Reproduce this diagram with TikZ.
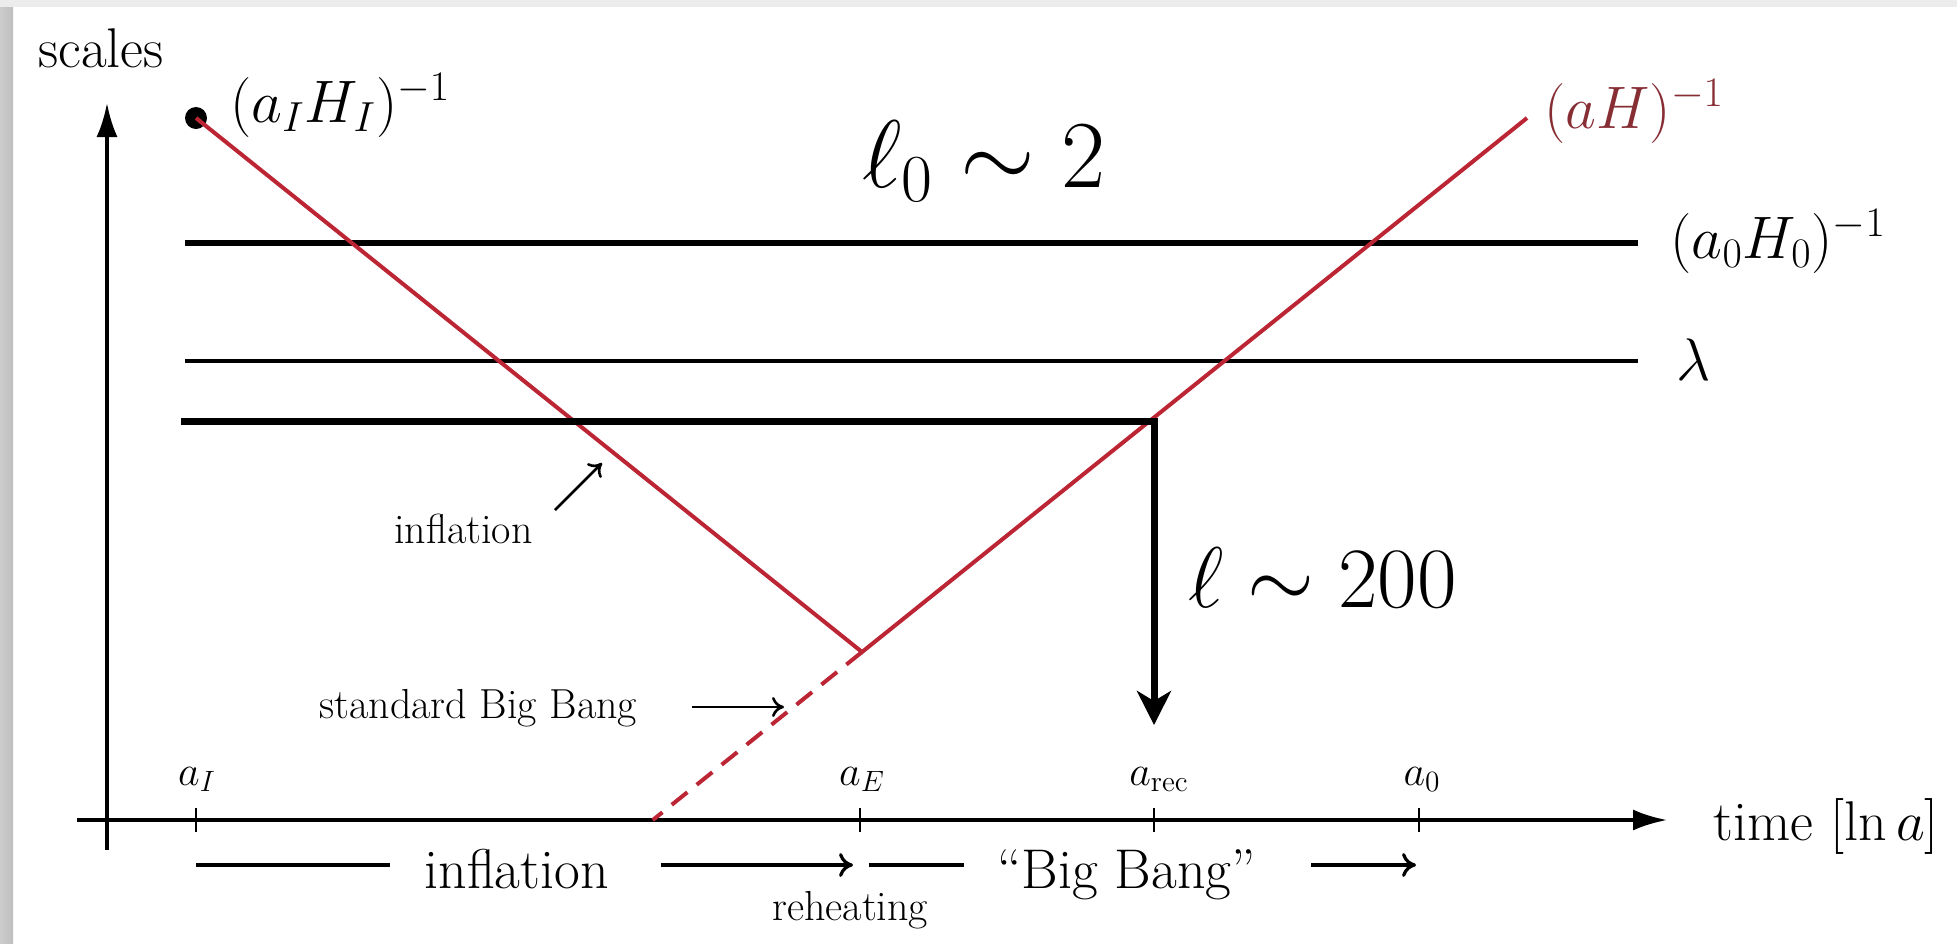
\RequirePackage{fix-cm}
\documentclass[tikz,border=0pt]{standalone}
\usetikzlibrary{arrows.meta,calc}
\definecolor{myred}{RGB}{188,38,52}
\definecolor{labred}{RGB}{135,45,52}
\tikzset{
  axisline/.style={line width=1.8pt,-{Latex[length=17pt,width=10.5pt]}},
  tickline/.style={line width=1pt},
  redline/.style={line width=2pt,myred},
  reddash/.style={line width=2pt,myred,dash pattern=on 10pt off 6pt},
  thickh/.style={line width=3.2pt},
  thinh/.style={line width=1.7pt},
  ellarrow/.style={line width=3.5pt,line join=miter,-{Stealth[length=17pt,width=17pt,inset=5pt]}},
  small/.style={inner sep=0pt,anchor=base west,font=\fontsize{21}{25}\selectfont},
  medium/.style={inner sep=0pt,anchor=base west,font=\fontsize{28}{34}\selectfont},
  mathlab/.style={inner sep=0pt,anchor=base west,font=\fontsize{30}{36}\selectfont},
  ticklab/.style={inner sep=0pt,anchor=base,font=\fontsize{21}{25}\selectfont},
  pointer/.style={line width=1.3pt,-{To[length=6pt,width=10pt]}},
  rowline/.style={line width=1.6pt},
  rowarrow/.style={line width=1.6pt,-{To[length=7pt,width=12pt]}},
}
\begin{document}
\begin{tikzpicture}[x=0.5pt,y=-0.5pt]
\useasboundingbox (0,0) rectangle (1957,943);
% screenshot frame
\fill[gray!15] (0,0) rectangle (1957,7);
\shade[left color=gray!40,right color=gray!50] (0,7) rectangle (13,943);

% axes
\coordinate (yb) at (107,850);
\coordinate (yt) at (107,103);
\coordinate (xl) at (77,820);
\coordinate (xr) at (1667,820);
\draw[axisline] (yb) -- (yt);
\draw[axisline] (xl) -- (xr);
\node[medium] (scales) at (38,67) {scales};
\node[medium] (time) at (1713,840) {time $[\ln a]$};

% ticks
\foreach \n/\x in {I/196,E/860,rec/1154,0/1419}{
  \coordinate (t\n a) at (\x,808);
  \coordinate (t\n b) at (\x,832);
  \draw[tickline] (t\n a) -- (t\n b);
}
\node[ticklab] (laI) at (197,785) {$a_I$};
\node[ticklab] (laE) at (862,785) {$a_E$};
\node[ticklab] (larec) at (1159,785) {$a_{\rm rec}$};
\node[ticklab] (la0) at (1422,785) {$a_0$};

% horizontal scales
\coordinate (hA1) at (185,243); \coordinate (hA2) at (1638,243);
\draw[thickh] (hA1) -- (hA2);
\coordinate (hL1) at (185,361); \coordinate (hL2) at (1638,361);
\draw[thinh] (hL1) -- (hL2);
\node[mathlab] (a0H0) at (1670,258) {$(a_0H_0)^{-1}$};
\node[mathlab] (lam) at (1676,380) {$\lambda$};

% Hubble radius
\node[circle,fill=black,inner sep=0pt,minimum size=11pt] (dot) at (196,118) {};
\coordinate (E) at (862,652);
\coordinate (top) at (1527,118);
\coordinate (bb) at ($(E)!-0.3146!(top)$);
\draw[reddash] (E) -- (bb);
\draw[redline,line join=miter] (dot.center) -- (E) -- (top);
\node[mathlab] (aIHI) at (230,122) {$(a_IH_I)^{-1}$};
\node[mathlab,text=labred] (aH) at (1544,128) {$(aH)^{-1}$};

% ell line and arrow
\coordinate (hl1) at (181,421);
\coordinate (corner) at (1154,421);
\coordinate (ellend) at (1154,725);
\draw[ellarrow] (hl1) -- (corner) -- (ellend);
\node[inner sep=0pt,anchor=base west,font=\fontsize{48}{56}\selectfont] (ell0) at (862,187) {$\ell_0\sim 2$};
\node[inner sep=0pt,anchor=base west,font=\fontsize{43}{50}\selectfont] (ell) at (1188,607) {$\ell\sim 200$};

% annotations
\node[small] (infl) at (394,543) {inflation};
\coordinate (p1a) at (555,510); \coordinate (p1b) at (602,463);
\draw[pointer] (p1a) -- (p1b);
\node[small] (sbb) at (319,718) {standard Big Bang};
\coordinate (p2a) at (692,707); \coordinate (p2b) at (784,707);
\draw[pointer] (p2a) -- (p2b);

% bottom row
\coordinate (r1a) at (196,865); \coordinate (r1b) at (390,865);
\draw[rowline] (r1a) -- (r1b);
\node[medium] (binfl) at (424,888) {inflation};
\coordinate (r2a) at (661,865); \coordinate (r2b) at (853,865);
\draw[rowarrow] (r2a) -- (r2b);
\coordinate (r3a) at (869,865); \coordinate (r3b) at (964,865);
\draw[rowline] (r3a) -- (r3b);
\node[medium] (bbb) at (997,888) {“Big Bang”};
\coordinate (r4a) at (1311,865); \coordinate (r4b) at (1416,865);
\draw[rowarrow] (r4a) -- (r4b);
\node[small] (reh) at (772,920) {reheating};
\end{tikzpicture}
\end{document}
